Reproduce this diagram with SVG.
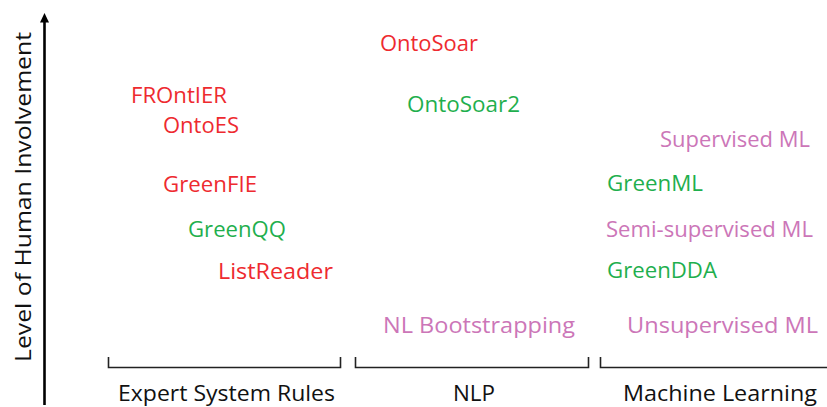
<svg xmlns="http://www.w3.org/2000/svg" width="827" height="407" viewBox="0 0 827 407">
  <style>
    .lbl { font-family: "Open Sans", "Noto Sans", "DejaVu Sans", sans-serif; font-size: 21px; }
    .red { fill: #EE2A2F; }
    .grn { fill: #1FAF4E; }
    .pnk { fill: #CC76B8; }
    .cat { font-family: "Open Sans", "Noto Sans", sans-serif; font-size: 21px; fill: #111; }
    .axis { stroke: #000; stroke-width: 2.6; fill: none; }
    .brk { stroke: #222; stroke-width: 1.6; fill: none; }
  </style>

  <!-- vertical axis -->
  <g id="y-axis">
    <line class="axis" x1="44.5" y1="405" x2="44.5" y2="22"/>
    <path d="M40,22.5 L44.5,13 L49,22.5 Z" fill="#000"/>
    <text class="lbl" fill="#111" transform="translate(31,362) rotate(-90)" textLength="330" lengthAdjust="spacingAndGlyphs" font-size="22">Level of Human Involvement</text>
  </g>

  <!-- category brackets -->
  <g id="connectors">
    <path class="brk" d="M108.5,357 V367.5 H340.5 V357"/>
    <path class="brk" d="M355.5,357 V367.5 H588.5 V357"/>
    <path class="brk" d="M600.5,357 V367.5 H827"/>
  </g>

  <g id="cat-expert"><text class="cat" x="118" y="401" textLength="217" lengthAdjust="spacingAndGlyphs">Expert System Rules</text></g>
  <g id="cat-nlp"><text class="cat" x="453" y="401" textLength="42" lengthAdjust="spacingAndGlyphs">NLP</text></g>
  <g id="cat-ml"><text class="cat" x="623" y="401" textLength="194" lengthAdjust="spacingAndGlyphs">Machine Learning</text></g>

  <!-- expert system rules column -->
  <g id="frontier"><text class="lbl red" x="131" y="103" textLength="96" lengthAdjust="spacingAndGlyphs">FROntIER</text></g>
  <g id="ontoes"><text class="lbl red" x="163" y="133" textLength="76" lengthAdjust="spacingAndGlyphs">OntoES</text></g>
  <g id="greenfie"><text class="lbl red" x="163" y="192" textLength="94" lengthAdjust="spacingAndGlyphs">GreenFIE</text></g>
  <g id="greenqq"><text class="lbl grn" x="188" y="237" textLength="98" lengthAdjust="spacingAndGlyphs">GreenQQ</text></g>
  <g id="listreader"><text class="lbl red" x="218" y="279" textLength="115" lengthAdjust="spacingAndGlyphs">ListReader</text></g>

  <!-- NLP column -->
  <g id="ontosoar"><text class="lbl red" x="380" y="51" textLength="98" lengthAdjust="spacingAndGlyphs">OntoSoar</text></g>
  <g id="ontosoar2"><text class="lbl grn" x="407" y="112" textLength="113" lengthAdjust="spacingAndGlyphs">OntoSoar2</text></g>
  <g id="nl-bootstrapping"><text class="lbl pnk" x="383" y="333" textLength="192" lengthAdjust="spacingAndGlyphs">NL Bootstrapping</text></g>

  <!-- machine learning column -->
  <g id="supervised-ml"><text class="lbl pnk" x="660" y="147" textLength="150" lengthAdjust="spacingAndGlyphs">Supervised ML</text></g>
  <g id="greenml"><text class="lbl grn" x="607" y="191" textLength="96" lengthAdjust="spacingAndGlyphs">GreenML</text></g>
  <g id="semi-supervised-ml"><text class="lbl pnk" x="606" y="237" textLength="207" lengthAdjust="spacingAndGlyphs">Semi-supervised ML</text></g>
  <g id="greendda"><text class="lbl grn" x="607" y="278" textLength="110" lengthAdjust="spacingAndGlyphs">GreenDDA</text></g>
  <g id="unsupervised-ml"><text class="lbl pnk" x="627" y="333" textLength="191" lengthAdjust="spacingAndGlyphs">Unsupervised ML</text></g>
</svg>
